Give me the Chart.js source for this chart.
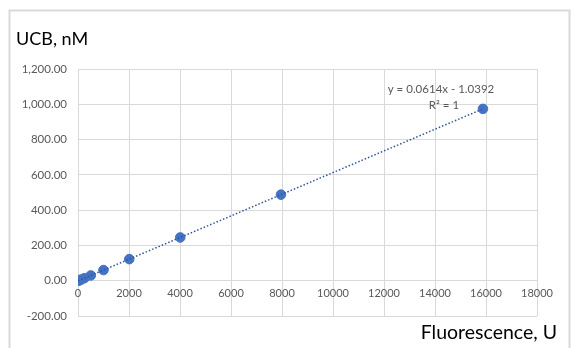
<!DOCTYPE html>
<html>
<head>
<meta charset="utf-8">
<script src="https://cdn.jsdelivr.net/npm/chart.js@4/dist/chart.umd.min.js"></script>
<style>
    html, body { margin: 0; padding: 0; background: #fff; }
    #wrap { width: 575px; height: 348px; }
</style>
</head>
<body>
<div id="wrap"><canvas id="calChart" width="575" height="348"></canvas></div>
<script>
// calibration points
const fluorescence = [0, 31, 62, 125, 250, 500, 1000, 2010, 4010, 7960, 15880];
const ucbConc = [0, 1.0, 2.8, 6.6, 14.3, 29.7, 60.4, 122.4, 245.2, 487.7, 974.0];

// trendline end points (y = 0.0614x - 1.0392)
const trendX = [0, 15880];
const trendY = [-1.04, 974.0];

const equationText = 'y = 0.0614x - 1.0392';
const r2Text = 'R² = 1';
const yTitle = 'UCB, nM';
const xTitle = 'Fluorescence, U';

const FONT = 'Lato, "Open Sans", sans-serif';
const BLUE = '#4472c4';

const points = fluorescence.map((x, i) => ({ x: x, y: ucbConc[i] }));
const trend = trendX.map((x, i) => ({ x: x, y: trendY[i] }));

// frame, axis titles and the equation label
const decorations = {
    id: 'decorations',
    beforeDraw(chart) {
        const c = chart.ctx;
        c.save();
        c.strokeStyle = '#d9d9d9';
        c.lineWidth = 2;
        c.beginPath();
        c.moveTo(9.5, 348);
        c.lineTo(9.5, 10.5);
        c.lineTo(569.5, 10.5);
        c.lineTo(569.5, 348);
        c.stroke();
        c.restore();
    },
    afterDraw(chart) {
        const c = chart.ctx;
        c.save();
        c.fillStyle = '#000';
        c.textBaseline = 'middle';
        c.textAlign = 'left';
        c.font = '18px ' + FONT;
        c.fillText(yTitle, 16, 39);
        c.textAlign = 'right';
        c.font = '19.5px ' + FONT;
        c.fillText(xTitle, 557, 333);

        c.fillStyle = '#595959';
        c.font = '11.5px ' + FONT;
        c.textAlign = 'center';
        c.fillText(equationText, 441, 89);
        c.fillText(r2Text, 444, 105);
        c.restore();
    },
};

new Chart(document.getElementById('calChart'), {
    type: 'scatter',
    data: {
        datasets: [
            {
                label: 'trend',
                type: 'line',
                data: trend,
                borderColor: '#2f5597',
                borderWidth: 1.5,
                borderDash: [1.5, 2],
                pointRadius: 0,
                fill: false,
            },
            {
                label: 'UCB',
                data: points,
                backgroundColor: BLUE,
                borderColor: BLUE,
                pointRadius: 4.8,
                pointHoverRadius: 4.8,
            },
        ],
    },
    options: {
        responsive: false,
        animation: false,
        layout: {
            padding: { left: 0, right: 38, top: 69, bottom: 32 },
        },
        plugins: {
            legend: { display: false },
            tooltip: { enabled: false },
        },
        scales: {
            x: {
                type: 'linear',
                position: { y: 0 },
                min: 0,
                max: 18000,
                ticks: {
                    stepSize: 2000,
                    color: '#595959',
                    font: { family: FONT, size: 11 },
                    padding: 6,
                    maxRotation: 0,
                    callback: (v) => String(v),
                },
                grid: { color: '#d9d9d9', drawTicks: false },
                border: { color: '#d9d9d9' },
            },
            y: {
                min: -200,
                max: 1200,
                afterFit: (scale) => {
                    scale.width = 78;
                },
                ticks: {
                    stepSize: 200,
                    color: '#595959',
                    font: { family: FONT, size: 11.5 },
                    padding: 11,
                    callback: (v) =>
                        v.toLocaleString('en-US', { minimumFractionDigits: 2, maximumFractionDigits: 2 }),
                },
                grid: { color: '#d9d9d9', drawTicks: false },
                border: { display: false },
            },
        },
    },
    plugins: [decorations],
});
</script>
</body>
</html>
